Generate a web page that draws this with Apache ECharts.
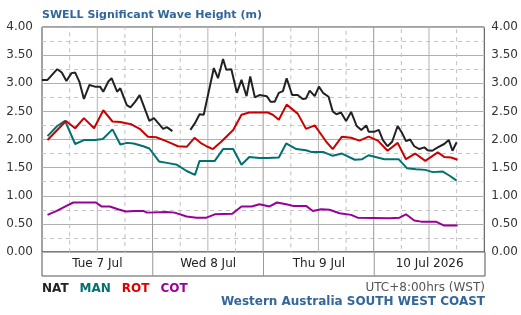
<!DOCTYPE html>
<html>
<head>
<meta charset="utf-8">
<script src="https://cdn.jsdelivr.net/npm/echarts@6/dist/echarts.min.js"></script>
<style>
    body { margin: 0; background: #fff; }
    #wave { width: 521px; height: 315px; }
</style>
</head>
<body>
<div id="wave"></div>
<script>
// hours from Tue 7 Jul 00:00 (WST), significant wave height in metres
var days = ["Tue 7 Jul", "Wed 8 Jul", "Thu 9 Jul", "10 Jul 2026"];
var quarterHours = [6, 18, 30, 42, 54, 66, 78, 90];
var noonHours = [12, 36, 60, 84];
var midnightHours = [24, 48, 72];

var natA = [[0,3.06],[1.2,3.06],[3.3,3.25],[4.3,3.19],[5.3,3.04],[6.4,3.18],[7.2,3.19],[8.1,3.03],[9.1,2.72],[10.3,2.97],[11.5,2.94],[12.6,2.94],[13.3,2.85],[14.4,3.03],[15.1,3.09],[16.3,2.85],[17,2.91],[18.4,2.61],[19.2,2.57],[20.2,2.67],[21.2,2.79],[23.3,2.33],[24.3,2.38],[26.3,2.19],[27.1,2.22],[28.3,2.15]];
var natB = [[32.2,2.17],[33.2,2.29],[34.2,2.45],[35.1,2.44],[37.3,3.27],[38.2,3.09],[39.3,3.43],[40,3.24],[41.1,3.25],[42.3,2.83],[43.3,3.06],[44.4,2.77],[45.2,3.12],[46.2,2.75],[47.2,2.79],[48.8,2.77],[49.6,2.67],[50.5,2.67],[51.4,2.83],[52.3,2.86],[53.1,3.09],[54.3,2.79],[55.5,2.79],[56.6,2.72],[57.3,2.73],[58.1,2.87],[59.2,2.77],[60.1,2.94],[61,2.83],[62.2,2.76],[63.1,2.5],[63.9,2.45],[64.9,2.48],[66,2.33],[67.1,2.49],[68.3,2.24],[69.3,2.17],[70.4,2.25],[70.9,2.14],[72.2,2.14],[73.1,2.17],[74,1.99],[75,1.88],[76,1.96],[77.2,2.24],[78.2,2.11],[79,1.97],[79.9,2],[80.8,1.88],[81.9,1.83],[83,1.86],[83.7,1.81],[84.7,1.8],[85.9,1.86],[87.3,1.92],[88.3,1.99],[89.1,1.8],[90,1.95]];
var man = [[1.2,2.06],[3.3,2.24],[5,2.33],[7.2,1.92],[9.1,1.99],[11.5,1.99],[13.2,2.01],[15.3,2.18],[17,1.91],[18.5,1.94],[19.9,1.93],[22,1.88],[23.3,1.84],[25.4,1.61],[27.4,1.58],[29.3,1.55],[31.4,1.44],[33.2,1.37],[34.2,1.62],[37.5,1.62],[39.3,1.83],[41.5,1.83],[43.3,1.55],[45,1.69],[47.2,1.67],[49,1.67],[51.4,1.68],[53,1.93],[55.2,1.83],[57.3,1.81],[58.4,1.78],[61,1.78],[63.1,1.71],[65.1,1.75],[67.9,1.64],[69.5,1.65],[70.9,1.72],[74.3,1.65],[77.4,1.65],[79.2,1.49],[81.2,1.47],[83.2,1.46],[84.8,1.42],[87,1.43],[88.4,1.36],[90,1.27]];
var rot = [[1.2,1.99],[3.2,2.16],[5.2,2.33],[7.2,2.2],[9.1,2.38],[11.3,2.2],[13.3,2.52],[15.3,2.32],[17,2.31],[18.2,2.29],[19.4,2.27],[21.2,2.19],[23,2.05],[24.8,2.04],[26.7,1.98],[28.1,1.93],[29.5,1.88],[31.4,1.87],[33.1,2.03],[34.6,1.93],[35.7,1.88],[37.1,1.83],[38.9,1.96],[41.5,2.17],[43.3,2.44],[45,2.48],[49,2.48],[50.1,2.44],[51.4,2.35],[53.1,2.62],[55.5,2.46],[57.3,2.19],[59.2,2.25],[61.7,1.96],[63.1,1.83],[65.1,2.05],[67.1,2.03],[68.9,1.98],[70.9,2.05],[72.9,1.98],[75,1.8],[77.2,1.94],[79,1.65],[81,1.75],[83.2,1.62],[85.9,1.77],[87.3,1.69],[88.8,1.68],[90.2,1.64]];
var cot = [[1.2,0.66],[3.2,0.73],[5.3,0.82],[6.8,0.88],[8.2,0.88],[11.7,0.88],[12.9,0.81],[14.7,0.81],[16.5,0.76],[18.2,0.72],[20.2,0.73],[22,0.73],[22.8,0.7],[27,0.71],[28.8,0.7],[31.4,0.63],[33.5,0.61],[35.7,0.61],[37.5,0.67],[41.3,0.68],[43.3,0.81],[45.5,0.81],[47.2,0.85],[49.4,0.81],[51,0.88],[53,0.85],[54.5,0.82],[57.3,0.82],[58.8,0.73],[60.6,0.76],[62.4,0.75],[64.6,0.69],[67.1,0.66],[68.5,0.61],[75.4,0.6],[77.6,0.61],[79,0.67],[80.8,0.56],[82.3,0.54],[85.5,0.54],[87.3,0.47],[90.2,0.47]];

function waveChart() {
    var e = echarts.init(document.getElementById("wave"));
    var font = "DejaVu Sans";

    function off() { return { show: false }; }

    function gridY(interval, style) {
        return {
            type: "value", gridIndex: 0, min: 0, max: 4, interval: interval,
            axisLine: off(), axisTick: off(), axisLabel: off(),
            splitLine: { show: true, lineStyle: style }
        };
    }

    function tickLabels(side, margin) {
        return {
            type: "value", gridIndex: 0, min: 0, max: 4, interval: 0.5,
            position: side,
            axisLine: off(), axisTick: off(), splitLine: off(),
            axisLabel: {
                margin: margin, color: "#333", fontSize: 12, fontFamily: font,
                formatter: function (v) { return v.toFixed(2); }
            }
        };
    }

    function hoursAxis(grid) {
        return {
            type: "value", gridIndex: grid, min: 0, max: 96,
            axisLine: off(), axisTick: off(), axisLabel: off(), splitLine: off()
        };
    }

    // up one hour line, down the next; the turns fall outside the plot and get clipped
    function zigzag(hours, lo, hi) {
        var pts = [];
        hours.forEach(function (h, i) {
            if (i % 2 === 0) {
                pts.push([h, lo], [h, hi]);
            } else {
                pts.push([h, hi], [h, lo]);
            }
        });
        return pts;
    }

    // vertical grid lines: the x split lines would not show in this build
    function verticals(xi, yi, data, style) {
        return {
            type: "line", data: data, xAxisIndex: xi, yAxisIndex: yi,
            showSymbol: false, symbol: "none", silent: true,
            animation: false, clip: true, z: 1,
            lineStyle: style
        };
    }

    function line(name, data, color) {
        return {
            name: name, type: "line", data: data,
            xAxisIndex: 0, yAxisIndex: 0,
            showSymbol: false, symbol: "none",
            lineStyle: { color: color, width: 2 },
            itemStyle: { color: color },
            animation: false, z: 5
        };
    }

    var dashed = { color: "#c0c0c0", type: [4, 4], width: 1 };
    var noon = { color: "#b4b4b4", type: "solid", width: 1 };
    var midnight = { color: "#999", type: "solid", width: 1 };

    var option = {
        backgroundColor: "#fff",
        animation: false,
        textStyle: { fontFamily: font },
        title: [{
            text: "SWELL Significant Wave Height (m)",
            left: 37, top: 5,
            textStyle: { color: "#336699", fontSize: 11, fontWeight: "bold", fontFamily: font }
        }, {
            text: "UTC+8:00hrs (WST)",
            right: 31, top: 277,
            textStyle: { color: "#555", fontSize: 12, fontWeight: "normal", fontFamily: font }
        }, {
            text: "Western Australia SOUTH WEST COAST",
            right: 31, top: 291,
            textStyle: { color: "#336699", fontSize: 12, fontWeight: "bold", fontFamily: font }
        }],
        legend: {
            left: 37, top: 282, padding: 0,
            icon: "none", itemWidth: 0, itemGap: 6,
            selectedMode: false,
            data: [
                { name: "NAT", textStyle: { color: "#222" } },
                { name: "MAN", textStyle: { color: "#007070" } },
                { name: "ROT", textStyle: { color: "#dd0000" } },
                { name: "COT", textStyle: { color: "#990099" } }
            ],
            textStyle: { fontSize: 12, fontWeight: "bold", fontFamily: font }
        },
        grid: [
            { left: 42, top: 27, width: 443, height: 225, show: true, borderColor: "#444", borderWidth: 1 },
            { left: 42, top: 252, width: 443, height: 24, show: true, borderColor: "#555", borderWidth: 1 }
        ],
        xAxis: [
            hoursAxis(0),
            hoursAxis(1),
            {
                type: "category", gridIndex: 1, data: days, boundaryGap: true,
                position: "top",
                axisLine: off(), axisTick: off(), splitLine: off(),
                axisLabel: { inside: true, margin: 6, color: "#222", fontSize: 12, fontFamily: font, interval: 0 }
            }
        ],
        yAxis: [
            gridY(0.25, { color: "#c4c4c4", type: [4, 4], width: 1 }),
            gridY(0.5, { color: "#b0b0b0", width: 1 }),
            tickLabels("left", 9),
            tickLabels("right", 7),
            { type: "value", gridIndex: 1, min: 0, max: 1, show: false }
        ],
        series: [
            verticals(0, 0, zigzag(quarterHours, -1, 5), dashed),
            verticals(0, 0, zigzag(noonHours, -1, 5), noon),
            verticals(0, 0, zigzag(midnightHours, -1, 5), midnight),
            verticals(1, 4, zigzag(midnightHours, -1, 2), midnight),
            line("COT", cot, "#990099"),
            line("MAN", man, "#007070"),
            line("ROT", rot, "#cc0000"),
            line("NAT", natA, "#222"),
            line("NAT", natB, "#222")
        ]
    };
    e.setOption(option);
    window.addEventListener("resize", function () {
        e.resize();
    });
    return e;
}
var myChart = waveChart();
</script>
</body>
</html>
